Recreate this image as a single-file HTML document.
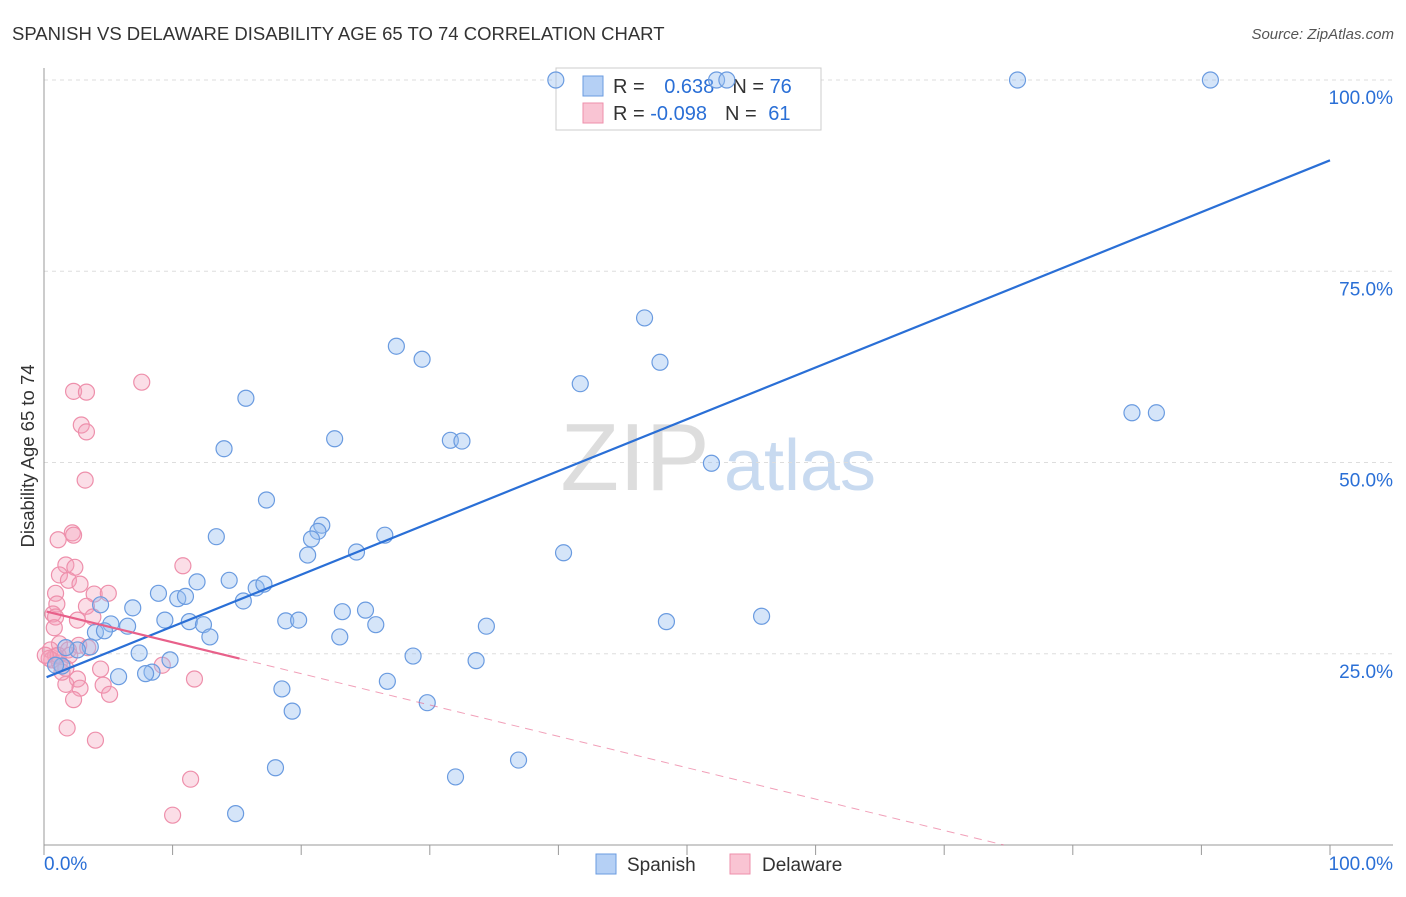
<!DOCTYPE html>
<html><head><meta charset="utf-8"><style>
body{margin:0;background:#fff;font-family:"Liberation Sans",sans-serif}
svg text{font-family:"Liberation Sans",sans-serif}
</style></head><body>
<svg id="c" width="1406" height="892">
<text x="12" y="40" font-size="18.5" fill="#333">SPANISH VS DELAWARE DISABILITY AGE 65 TO 74 CORRELATION CHART</text>
<text x="1394" y="39" font-size="15" fill="#555" font-style="italic" text-anchor="end">Source: ZipAtlas.com</text>
<text x="34" y="456" font-size="18.5" fill="#333" text-anchor="middle" transform="rotate(-90 34 456)">Disability Age 65 to 74</text>
<text x="635" y="490" font-size="96" fill="#ddd" font-family="Liberation Serif" text-anchor="middle">ZIP</text>
<text x="800" y="490" font-size="72" fill="#c8daf0" text-anchor="middle">atlas</text>
<g id="grid"></g>
<g>
<rect x="556" y="68" width="265" height="62" fill="#fff" stroke="#ccc"/>
<rect x="583" y="76" width="20" height="20" fill="#b5d0f5" stroke="#6a9be0"/>
<rect x="583" y="103" width="20" height="20" fill="#f9c4d3" stroke="#ee8fab"/>
<text x="613" y="93" font-size="20" fill="#333">R = <tspan fill="#2a6fd6" dx="14">0.638</tspan><tspan fill="#333" dx="18">N = </tspan><tspan fill="#2a6fd6">76</tspan></text>
<text x="613" y="120" font-size="20" fill="#333">R = <tspan fill="#2a6fd6">-0.098</tspan><tspan fill="#333" dx="18">N = </tspan><tspan fill="#2a6fd6" dx="6">61</tspan></text>
</g>
<g id="pts"></g><g id="lines"></g>
<g>
<rect x="596" y="854" width="20" height="20" fill="#b5d0f5" stroke="#6a9be0"/>
<text x="627" y="871" font-size="19" fill="#333">Spanish</text>
<rect x="730" y="854" width="20" height="20" fill="#f9c4d3" stroke="#ee8fab"/>
<text x="762" y="871" font-size="19" fill="#333">Delaware</text>
</g>
</svg>
<script>
const yTicks=[25,50,75,100];
const xTickVals=[0,10,20,30,40,50,60,70,80,90,100];
const blueX=[39.8,52.3,53.1,75.7,90.7,46.7,27.4,29.4,47.9,41.7,15.7,84.6,86.5,22.6,31.6,32.5,14.0,51.9,17.3,21.6,21.3,13.4,20.8,26.5,20.5,24.3,40.4,8.9,11.9,14.4,16.5,17.1,10.4,11.0,15.5,6.9,4.4,23.2,25.0,18.8,19.8,9.4,11.3,12.4,25.8,34.4,48.4,55.8,5.2,6.5,4.0,4.7,12.9,23.0,7.4,28.7,33.6,9.8,3.6,2.6,1.7,1.4,0.9,8.4,7.9,5.8,26.7,18.5,29.8,19.3,36.9,18.0,32.0,14.9];
const blueY=[100,100,100,100,100,68.9,65.2,63.5,63.1,60.3,58.4,56.5,56.5,53.1,52.9,52.8,51.8,49.9,45.1,41.8,41.0,40.3,40.0,40.5,37.9,38.3,38.2,32.9,34.4,34.6,33.6,34.1,32.2,32.5,31.9,31.0,31.4,30.5,30.7,29.3,29.4,29.4,29.2,28.8,28.8,28.6,29.2,29.9,28.9,28.6,27.8,28.0,27.2,27.2,25.1,24.7,24.1,24.2,25.9,25.5,25.8,23.4,23.5,22.6,22.4,22.0,21.4,20.4,18.6,17.5,11.1,10.1,8.9,4.1];
const pinkX=[7.6,2.3,3.3,2.9,3.3,3.2,2.2,2.3,1.1,1.7,2.4,1.2,1.9,2.8,10.8,3.9,5.0,0.9,1.0,0.7,3.3,3.8,2.6,0.9,0.8,2.7,3.4,1.2,1.9,0.5,0.9,0.6,1.2,1.7,9.2,4.4,2.6,1.7,2.8,11.7,4.6,5.1,2.3,1.8,4.0,11.4,10.0,0.4,1.1,0.1,1.4,2.0];
const pinkY=[60.5,59.3,59.2,54.9,54.0,47.7,40.8,40.5,39.9,36.6,36.3,35.3,34.6,34.1,36.5,32.8,32.9,32.9,31.5,30.2,31.2,29.8,29.4,29.8,28.4,26.1,25.8,26.3,25.5,25.5,24.7,24.2,23.8,23.1,23.5,23.0,21.7,21.0,20.5,21.7,20.9,19.7,19.0,15.3,13.7,8.6,3.9,24.4,24.8,24.8,22.6,24.8];
const blueTrend=[21.8,0.677];
const pinkTrend=[30.6,-0.41];
const pinkSolidEnd=15.2;
const NS="http://www.w3.org/2000/svg";
const X=v=>44+v*12.86, Y=v=>845-v*7.65;
function mk(t,a,p){const e=document.createElementNS(NS,t);for(const k in a)e.setAttribute(k,a[k]);p.appendChild(e);return e;}
const g=document.getElementById('grid');
for(const t of yTicks){
 const l=mk('line',{x1:44,x2:1393,y1:Y(t),y2:Y(t),stroke:'#ddd','stroke-dasharray':'4,4'},g);
 
 
 const tx=mk('text',{x:1393,y:Y(t)+24,'font-size':19,fill:'#2a6fd6','text-anchor':'end'},g);tx.textContent=t.toFixed(1)+'%';
 
 
}
mk('line',{x1:44,x2:44,y1:68,y2:845,stroke:'#999'},g);
mk('line',{x1:44,x2:1393,y1:845,y2:845,stroke:'#999'},g);
for(const v of xTickVals){const t=mk('line',{x1:X(v),x2:X(v),y1:845,y2:855,stroke:'#999'},g);
 
 }
let a=mk('text',{x:44,y:870,'font-size':19,fill:'#2a6fd6'},g);a.textContent='0.0%';


a=mk('text',{x:1393,y:870,'font-size':19,fill:'#2a6fd6','text-anchor':'end'},g);a.textContent='100.0%';


const p=document.getElementById('pts');
pinkX.forEach((x,i)=>{const c=mk('circle',{cx:X(x),cy:Y(pinkY[i]),r:8,fill:'rgba(244,160,185,0.35)',stroke:'#ee8fab','stroke-width':1.2},p);
 
 });
blueX.forEach((x,i)=>{const c=mk('circle',{cx:X(x),cy:Y(blueY[i]),r:8,fill:'rgba(150,190,240,0.4)',stroke:'#6a9be0','stroke-width':1.2},p);
 
 });
const L=document.getElementById('lines');
let e=mk('line',{x1:X(0.2),y1:Y(blueTrend[0]+blueTrend[1]*0.2),x2:X(100),y2:Y(blueTrend[0]+blueTrend[1]*100),stroke:'#2a6fd6','stroke-width':2.2},L);


e=mk('line',{x1:X(0.2),y1:Y(pinkTrend[0]+pinkTrend[1]*0.2),x2:X(pinkSolidEnd),y2:Y(pinkTrend[0]+pinkTrend[1]*pinkSolidEnd),stroke:'#e8608a','stroke-width':2.2},L);


const xe=-pinkTrend[0]/pinkTrend[1];
e=mk('line',{x1:X(pinkSolidEnd),y1:Y(pinkTrend[0]+pinkTrend[1]*pinkSolidEnd),x2:X(xe),y2:Y(0),stroke:'#e8608a','stroke-width':1,'stroke-dasharray':'8,6',opacity:0.6},L);


</script>
</body></html>
